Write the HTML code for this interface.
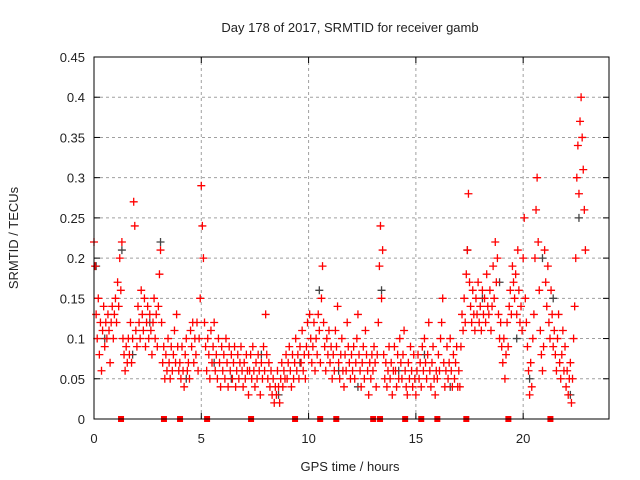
<!DOCTYPE html>
<html><head><meta charset="utf-8"><style>
body{margin:0;background:#fff}
svg{display:block;font-family:"Liberation Sans",sans-serif}
</style></head><body>
<svg id="chart" width="640" height="480">
<text x="350" y="32" text-anchor="middle" font-size="13" fill="#222">Day 178 of 2017, SRMTID for receiver gamb</text>
<text x="350" y="471" text-anchor="middle" font-size="13" fill="#222">GPS time / hours</text>
<text transform="translate(18,238) rotate(-90)" text-anchor="middle" font-size="13" fill="#222">SRMTID / TECUs</text>
<g id="grid"></g>
<g id="ticks"></g>
<g id="grey"></g>
<g id="red"></g>
<g id="marks"></g>
<rect x="94" y="57" width="515" height="362" fill="none" stroke="#000" stroke-width="1"/>
</svg>
<script>
const xTicks=[0,5,10,15,20];
const yTicks=[0,0.05,0.1,0.15,0.2,0.25,0.3,0.35,0.4,0.45];
const yTickLabels=["0","0.05","0.1","0.15","0.2","0.25","0.3","0.35","0.4","0.45"];
const sampleStart=0, sampleInterval=0.05;
const srmtid=[
0.22,0.19,0.13,0.1,0.15,0.08,0.12,0.06,0.11,0.14,0.09,0.12,0.1,0.13,0.11,0.07,0.12,0.14,0.1,0.13,
0.15,0.12,0.17,0.14,0.2,0.16,0.22,0.1,0.08,0.06,0.09,0.07,0.1,0.08,0.12,0.07,0.1,0.27,0.24,0.11,
0.09,0.14,0.12,0.1,0.16,0.13,0.11,0.15,0.09,0.12,0.14,0.1,0.13,0.11,0.08,0.12,0.15,0.1,0.13,0.09,
0.14,0.18,0.21,0.12,0.07,0.09,0.05,0.08,0.06,0.1,0.07,0.05,0.09,0.06,0.08,0.11,0.07,0.13,0.09,0.06,
0.07,0.05,0.09,0.06,0.04,0.08,0.1,0.06,0.07,0.05,0.11,0.09,0.12,0.07,0.1,0.08,0.12,0.06,0.1,0.15,
0.29,0.24,0.2,0.12,0.09,0.06,0.1,0.08,0.05,0.11,0.07,0.09,0.12,0.06,0.08,0.05,0.1,0.07,0.04,0.09,
0.06,0.08,0.05,0.1,0.07,0.04,0.09,0.06,0.08,0.05,0.07,0.09,0.04,0.06,0.08,0.05,0.07,0.09,0.06,0.04,
0.07,0.05,0.08,0.06,0.03,0.06,0.08,0.05,0.09,0.06,0.04,0.07,0.05,0.08,0.06,0.03,0.07,0.05,0.09,0.06,
0.13,0.08,0.05,0.07,0.04,0.06,0.03,0.05,0.02,0.04,0.03,0.06,0.04,0.02,0.05,0.07,0.04,0.06,0.05,0.08,
0.05,0.07,0.09,0.06,0.04,0.08,0.05,0.07,0.1,0.06,0.08,0.05,0.09,0.07,0.11,0.06,0.08,0.05,0.09,0.12,
0.08,0.13,0.1,0.07,0.09,0.12,0.06,0.1,0.08,0.13,0.11,0.07,0.15,0.19,0.12,0.09,0.06,0.1,0.08,0.11,
0.07,0.09,0.05,0.08,0.06,0.11,0.09,0.14,0.07,0.05,0.08,0.1,0.06,0.04,0.08,0.06,0.12,0.09,0.07,0.05,
0.08,0.06,0.09,0.05,0.07,0.1,0.13,0.08,0.06,0.04,0.07,0.09,0.05,0.11,0.08,0.06,0.03,0.07,0.05,0.08,
0.06,0.09,0.07,0.04,0.08,0.12,0.19,0.24,0.15,0.21,0.08,0.05,0.07,0.04,0.06,0.09,0.05,0.07,0.03,0.06,
0.09,0.06,0.04,0.08,0.05,0.1,0.07,0.05,0.08,0.11,0.06,0.04,0.03,0.07,0.05,0.09,0.06,0.04,0.08,0.05,
0.03,0.06,0.08,0.05,0.07,0.04,0.09,0.06,0.1,0.07,0.05,0.08,0.12,0.06,0.04,0.07,0.09,0.05,0.03,0.06,
0.05,0.08,0.06,0.1,0.12,0.15,0.07,0.04,0.06,0.09,0.05,0.07,0.1,0.06,0.04,0.08,0.05,0.07,0.09,0.04,
0.06,0.04,0.09,0.13,0.11,0.15,0.12,0.18,0.21,0.28,0.17,0.14,0.12,0.16,0.13,0.11,0.15,0.13,0.17,0.12,
0.14,0.11,0.16,0.13,0.15,0.12,0.18,0.14,0.13,0.16,0.11,0.14,0.19,0.15,0.22,0.17,0.2,0.13,0.1,0.12,
0.09,0.07,0.1,0.05,0.08,0.12,0.09,0.14,0.16,0.13,0.19,0.17,0.15,0.18,0.13,0.21,0.16,0.12,0.14,0.11,
0.2,0.25,0.15,0.12,0.09,0.06,0.03,0.07,0.04,0.1,0.13,0.2,0.26,0.3,0.22,0.16,0.11,0.08,0.06,0.09,
0.21,0.17,0.14,0.19,0.12,0.1,0.16,0.13,0.09,0.11,0.08,0.06,0.1,0.13,0.07,0.05,0.08,0.11,0.06,0.09,
0.04,0.06,0.03,0.05,0.07,0.02,0.05,0.1,0.14,0.2,0.3,0.34,0.28,0.37,0.4,0.35,0.31,0.26,0.21];
const greyHours=[0.1,0.5,1.3,1.8,2.6,3.1,4.3,5.6,6.4,7.8,8.6,9.6,10.5,11.4,12.3,13.4,14.2,15.4,16.6,17.4,18.1,18.9,19.7,20.3,20.9,21.4,22.2,22.6];
const greyValues=[0.19,0.1,0.21,0.08,0.12,0.22,0.05,0.07,0.05,0.08,0.03,0.07,0.16,0.06,0.04,0.16,0.06,0.08,0.04,0.21,0.15,0.17,0.1,0.05,0.2,0.15,0.03,0.25];
const markerHours=[1.26,3.26,4.01,5.27,7.32,9.37,10.54,11.29,13.01,13.33,14.5,15.25,16.0,17.35,19.31,21.27];
const X0=94,X1=609,Y0=419,Y1=57;
const xs=h=>X0+(X1-X0)*h/24;
const ys=v=>Y0-(Y0-Y1)*v/0.45;
const NS="http://www.w3.org/2000/svg";
function mk(tag,parent,attrs){const e=document.createElementNS(NS,tag);for(const k in attrs)e.setAttribute(k,attrs[k]);parent.appendChild(e);return e;}
const grid=document.getElementById('grid'),ticks=document.getElementById('ticks');
yTicks.forEach((v,i)=>{const y=ys(v);
 if(i>0&&i<yTicks.length-1){const g=mk('line',grid,{x1:X0,x2:X1,y1:y,y2:y,stroke:'#a0a0a0','stroke-dasharray':'3,3'});
 
 }
 mk('line',ticks,{x1:X0,x2:X0+6,y1:y,y2:y,stroke:'#000'});
 mk('line',ticks,{x1:X1-6,x2:X1,y1:y,y2:y,stroke:'#000'});
 const t=mk('text',ticks,{x:X0-9,y:y+5,'text-anchor':'end','font-size':13,fill:'#222'});t.textContent=yTickLabels[i];
 
 
});
xTicks.forEach(h=>{const x=xs(h);
 if(h>0){const g=mk('line',grid,{x1:x,x2:x,y1:Y0,y2:Y1,stroke:'#a0a0a0','stroke-dasharray':'3,3'});
 
 }
 mk('line',ticks,{x1:x,x2:x,y1:Y0,y2:Y0-6,stroke:'#000'});
 mk('line',ticks,{x1:x,x2:x,y1:Y1,y2:Y1+6,stroke:'#000'});
 const t=mk('text',ticks,{x:x,y:Y0+24,'text-anchor':'middle','font-size':13,fill:'#222'});t.textContent=String(h);
 
 
});
function plus(parent,x,y,col){const p=mk('path',parent,{d:`M${x-4},${y}h8M${x},${y-4}v8`,stroke:col,'stroke-width':1.3,fill:'none'});return p;}
const grey=document.getElementById('grey');
greyHours.forEach((h,i)=>{const p=plus(grey,xs(h),ys(greyValues[i]),'#444');
 
 });
const red=document.getElementById('red');
srmtid.forEach((v,i)=>{const h=sampleStart+i*sampleInterval;const p=plus(red,xs(h),ys(v),'#ff0000');
 
 });
const marks=document.getElementById('marks');
markerHours.forEach(h=>{const r=mk('rect',marks,{x:xs(h)-3,y:Y0-3,width:6,height:6,fill:'#ff0000'});
 
 });
</script>
</body></html>
